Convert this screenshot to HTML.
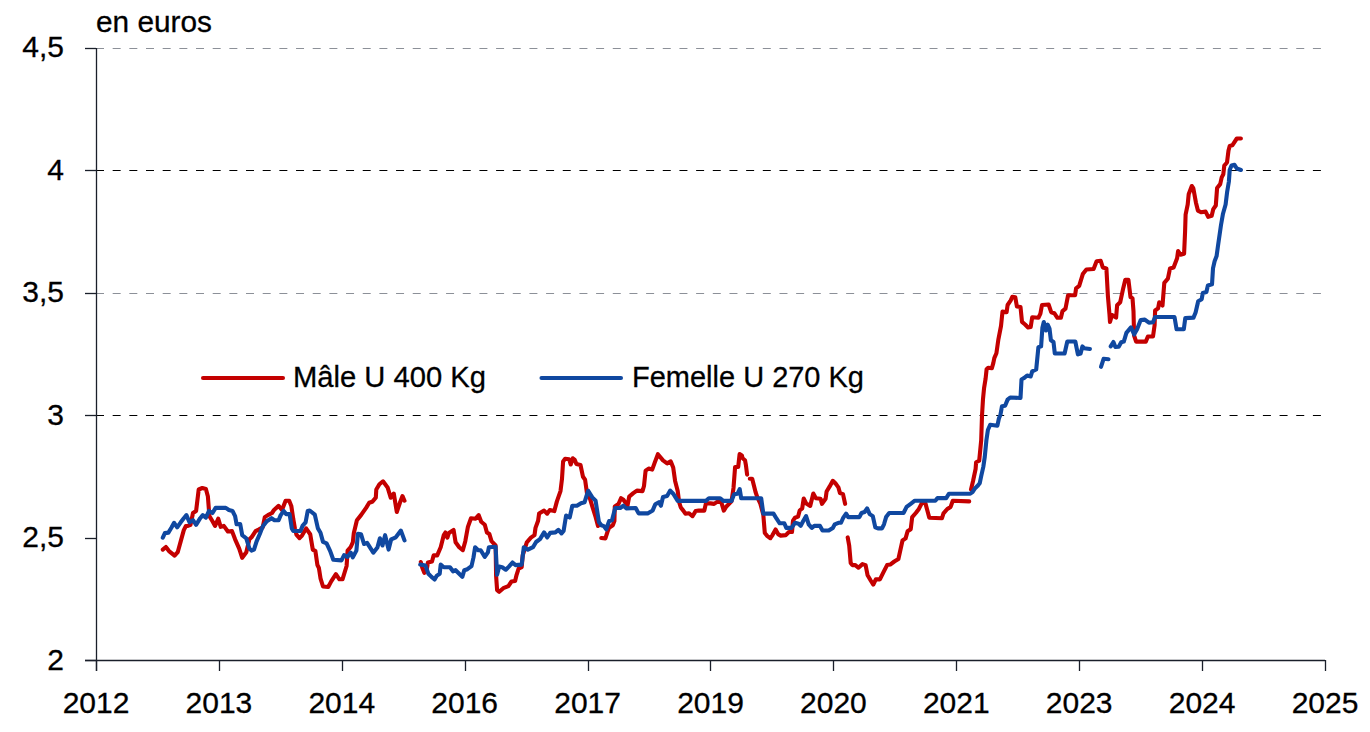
<!DOCTYPE html>
<html><head><meta charset="utf-8"><style>
html,body{margin:0;padding:0;background:#fff;width:1370px;height:732px;overflow:hidden}
svg{display:block}
</style></head><body>
<svg width="1370" height="732" viewBox="0 0 1370 732">
<line x1="96" y1="48.5" x2="1325" y2="48.5" stroke="#8c9098" stroke-width="1" stroke-dasharray="8 8.67"/>
<line x1="96" y1="170.5" x2="1325" y2="170.5" stroke="#000" stroke-width="1" stroke-dasharray="8 8.67"/>
<line x1="96" y1="293.5" x2="1325" y2="293.5" stroke="#8c9098" stroke-width="1" stroke-dasharray="8 8.67"/>
<line x1="96" y1="415.5" x2="1325" y2="415.5" stroke="#000" stroke-width="1" stroke-dasharray="8 8.67"/>
<line x1="96.5" y1="48" x2="96.5" y2="671" stroke="#1a1f2a" stroke-width="1.3"/>
<line x1="85" y1="660.5" x2="1325" y2="660.5" stroke="#1a1f2a" stroke-width="1.3"/>
<line x1="85" y1="48.5" x2="96" y2="48.5" stroke="#1a1f2a" stroke-width="1.3"/>
<line x1="85" y1="170.5" x2="96" y2="170.5" stroke="#1a1f2a" stroke-width="1.3"/>
<line x1="85" y1="293.5" x2="96" y2="293.5" stroke="#1a1f2a" stroke-width="1.3"/>
<line x1="85" y1="415.5" x2="96" y2="415.5" stroke="#1a1f2a" stroke-width="1.3"/>
<line x1="85" y1="538.5" x2="96" y2="538.5" stroke="#1a1f2a" stroke-width="1.3"/>
<line x1="85" y1="660.5" x2="96" y2="660.5" stroke="#1a1f2a" stroke-width="1.3"/>
<line x1="96.5" y1="660" x2="96.5" y2="671" stroke="#1a1f2a" stroke-width="1.3"/>
<line x1="219.5" y1="660" x2="219.5" y2="671" stroke="#1a1f2a" stroke-width="1.3"/>
<line x1="342.5" y1="660" x2="342.5" y2="671" stroke="#1a1f2a" stroke-width="1.3"/>
<line x1="465.5" y1="660" x2="465.5" y2="671" stroke="#1a1f2a" stroke-width="1.3"/>
<line x1="588.5" y1="660" x2="588.5" y2="671" stroke="#1a1f2a" stroke-width="1.3"/>
<line x1="710.5" y1="660" x2="710.5" y2="671" stroke="#1a1f2a" stroke-width="1.3"/>
<line x1="833.5" y1="660" x2="833.5" y2="671" stroke="#1a1f2a" stroke-width="1.3"/>
<line x1="956.5" y1="660" x2="956.5" y2="671" stroke="#1a1f2a" stroke-width="1.3"/>
<line x1="1079.5" y1="660" x2="1079.5" y2="671" stroke="#1a1f2a" stroke-width="1.3"/>
<line x1="1202.5" y1="660" x2="1202.5" y2="671" stroke="#1a1f2a" stroke-width="1.3"/>
<line x1="1325.5" y1="660" x2="1325.5" y2="671" stroke="#1a1f2a" stroke-width="1.3"/>
<text x="64" y="56.5" font-family="Liberation Sans, sans-serif" font-size="30" text-anchor="end" fill="#000" stroke="#000" stroke-width="0.3">4,5</text>
<text x="64" y="180" font-family="Liberation Sans, sans-serif" font-size="30" text-anchor="end" fill="#000" stroke="#000" stroke-width="0.3">4</text>
<text x="64" y="301.5" font-family="Liberation Sans, sans-serif" font-size="30" text-anchor="end" fill="#000" stroke="#000" stroke-width="0.3">3,5</text>
<text x="64" y="425" font-family="Liberation Sans, sans-serif" font-size="30" text-anchor="end" fill="#000" stroke="#000" stroke-width="0.3">3</text>
<text x="64" y="546.5" font-family="Liberation Sans, sans-serif" font-size="30" text-anchor="end" fill="#000" stroke="#000" stroke-width="0.3">2,5</text>
<text x="64" y="670" font-family="Liberation Sans, sans-serif" font-size="30" text-anchor="end" fill="#000" stroke="#000" stroke-width="0.3">2</text>
<text x="96.0" y="712.5" font-family="Liberation Sans, sans-serif" font-size="30" text-anchor="middle" fill="#000" stroke="#000" stroke-width="0.3">2012</text>
<text x="218.9" y="712.5" font-family="Liberation Sans, sans-serif" font-size="30" text-anchor="middle" fill="#000" stroke="#000" stroke-width="0.3">2013</text>
<text x="341.8" y="712.5" font-family="Liberation Sans, sans-serif" font-size="30" text-anchor="middle" fill="#000" stroke="#000" stroke-width="0.3">2014</text>
<text x="464.70000000000005" y="712.5" font-family="Liberation Sans, sans-serif" font-size="30" text-anchor="middle" fill="#000" stroke="#000" stroke-width="0.3">2016</text>
<text x="587.6" y="712.5" font-family="Liberation Sans, sans-serif" font-size="30" text-anchor="middle" fill="#000" stroke="#000" stroke-width="0.3">2017</text>
<text x="710.5" y="712.5" font-family="Liberation Sans, sans-serif" font-size="30" text-anchor="middle" fill="#000" stroke="#000" stroke-width="0.3">2019</text>
<text x="833.4000000000001" y="712.5" font-family="Liberation Sans, sans-serif" font-size="30" text-anchor="middle" fill="#000" stroke="#000" stroke-width="0.3">2020</text>
<text x="956.3000000000001" y="712.5" font-family="Liberation Sans, sans-serif" font-size="30" text-anchor="middle" fill="#000" stroke="#000" stroke-width="0.3">2021</text>
<text x="1079.2" y="712.5" font-family="Liberation Sans, sans-serif" font-size="30" text-anchor="middle" fill="#000" stroke="#000" stroke-width="0.3">2023</text>
<text x="1202.1000000000001" y="712.5" font-family="Liberation Sans, sans-serif" font-size="30" text-anchor="middle" fill="#000" stroke="#000" stroke-width="0.3">2024</text>
<text x="1325.0" y="712.5" font-family="Liberation Sans, sans-serif" font-size="30" text-anchor="middle" fill="#000" stroke="#000" stroke-width="0.3">2025</text>
<text x="96" y="32" font-family="Liberation Sans, sans-serif" font-size="30" fill="#000" stroke="#000" stroke-width="0.3" textLength="116" lengthAdjust="spacingAndGlyphs">en euros</text>
<line x1="203" y1="378" x2="283" y2="378" stroke="#C40000" stroke-width="4.1" stroke-linecap="round"/>
<text x="293" y="386.5" font-family="Liberation Sans, sans-serif" font-size="30" fill="#000" stroke="#000" stroke-width="0.3" textLength="193" lengthAdjust="spacingAndGlyphs">Mâle U 400 Kg</text>
<line x1="541.5" y1="378" x2="621" y2="378" stroke="#1048A0" stroke-width="4.1" stroke-linecap="round"/>
<text x="632" y="386.5" font-family="Liberation Sans, sans-serif" font-size="30" fill="#000" stroke="#000" stroke-width="0.3" textLength="232" lengthAdjust="spacingAndGlyphs">Femelle U 270 Kg</text>
<path d="M162.8 549.6 L165.9 547 L169 551.1 L174.6 555.7 L177.7 552.2 L180.7 541.4 L183.8 530.1 L185.9 526 L187.9 525.9 L190.5 524.8 L193 513 L196.1 511 L198.7 489.5 L202.3 488 L205.9 489 L207.9 496.6 L209.4 516.1 L212.5 521.2 L215.1 525.9 L218.2 518.7 L220.7 526.9 L223.8 525.9 L227.9 531.5 L232 531.1 L235.1 539.3 L239.2 548.6 L242.2 557.8 L246.3 552.2 L249.4 539.3 L251.5 537.3 L255.6 531.1 L258.6 529.6 L262.7 527.4 L264.8 517.1 L267.9 515.1 L272 513 L274 510 L278.6 505.9 L282 510 L285.6 500.7 L289.2 500.7 L291.3 505.9 L293.3 519.2 L294.9 528.4 L296.4 534.6 L299.5 538.2 L302 535.6 L306.1 528.4 L310.2 534.2 L312.8 549.6 L315.4 551.1 L317.4 565 L318.9 568 L320.5 578.3 L323 586.5 L328.2 587 L331.2 581.4 L335.9 574.2 L339.4 579.3 L342.5 579.3 L346.6 566 L347.6 550.6 L350.7 547 L352.8 542.4 L353.8 533.2 L356.9 520.2 L361 515.1 L366.1 507.9 L369.2 502.8 L372.2 501.8 L375.8 497.7 L376.3 489.5 L379.4 484.3 L383 481.3 L387.6 487.4 L390.7 497.7 L393.8 493.6 L396.8 512 L399.9 502.8 L402.5 496.1 L404.5 500.7" fill="none" stroke="#C40000" stroke-width="4.1" stroke-linejoin="round" stroke-linecap="round"/>
<path d="M420.8 562 L422.3 567.7 L424.3 572.8 L426.9 568.7 L427.9 562.5 L432 561.5 L433.6 555.4 L437.2 555.4 L440.7 547.2 L443.8 535.1 L445.4 532.5 L447.4 537.7 L448.9 533 L453.6 530 L455.6 542.3 L459.2 547.2 L462.8 550.2 L465.3 541.2 L467.9 526.9 L471 518.2 L475.6 518.7 L478.7 515.1 L481.2 521.8 L484.8 524.8 L486.9 532.5 L489.4 534.1 L491.5 541.2 L495.6 545.5 L496.1 575.9 L497.1 590.2 L499.2 591.8 L503.3 588.2 L508.4 586.1 L511.5 581.5 L515.1 581 L516.6 574.8 L518.6 568.7 L521.7 567.2 L522.7 555.4 L526.8 542.3 L530.9 537.7 L534.5 535.1 L535.5 527.9 L538.1 520.7 L539.1 513.6 L544.1 510.6 L547.2 513.7 L549.7 510.1 L554.3 511.1 L556.9 501.4 L560.5 491.1 L562 478.8 L563.1 461.4 L565.1 458.8 L569.2 459.3 L570.7 464.5 L572.8 458.3 L574.8 459.9 L576.4 464 L580.5 465 L583 476.8 L585.1 479.8 L587.1 494.2 L590.2 499.3 L592.3 506.4 L595.6 517 L598 526" fill="none" stroke="#C40000" stroke-width="4.1" stroke-linejoin="round" stroke-linecap="round"/>
<path d="M601.3 538 L605.4 538.4 L607.5 531.8 L609.1 527.7 L612.8 525.2 L614.4 521.1 L614.8 506.4 L618.5 504 L621 498.2 L623.4 499.8 L627.5 505.6 L629.2 496.6 L633.3 493.2 L636.9 490.6 L642.5 491.1 L644 486 L645.6 470.6 L648.6 468.6 L652.2 469.6 L654.8 462.4 L657.9 454.2 L663 460.4 L667.1 463.4 L670.7 461.4 L673.2 467.5 L675.1 480.9 L677.7 491.1 L679.2 502.4 L680.8 507.5 L683.3 510.6 L685.4 513.7 L689 513.2 L692.5 516.2 L695.6 511.1 L698.7 510.6 L704.3 510.6 L705.9 503.4 L710.5 503.4 L714.1 503.9 L717.1 501.9 L721.2 501.9 L723.8 510.6 L726.4 506.5 L731.5 501.4 L733.5 488 L735.1 467 L738.2 467 L739.6 454.1 L741.9 455.5 L742.6 458.2 L745 460.2 L746 465.7 L747.1 474.6" fill="none" stroke="#C40000" stroke-width="4.1" stroke-linejoin="round" stroke-linecap="round"/>
<path d="M749.8 478.7 L752.2 478.7 L753.9 485.5 L755.6 492.3 L757.3 497.1 L760.2 503.3 L763.3 514.6 L764.8 533 L767.4 536.1 L770.4 538.2 L772.5 535.1 L775.6 529.5 L778.1 534.1 L780.7 535.6 L785.8 535.1 L788.9 532 L792 532 L793 520.7 L795 517.7 L798.1 516.6 L799.7 510.5 L802.2 508.4 L803.7 498.5 L806.3 503.6 L810.2 505.9 L813.3 493.6 L815.9 498.2 L820.5 498.7 L822 503.8 L825.6 498.7 L826.6 491.5 L829.7 486.4 L832.8 480.8 L835.4 483.3 L838.4 487.4 L840 493.1 L843 494.1 L845.1 503.8" fill="none" stroke="#C40000" stroke-width="4.1" stroke-linejoin="round" stroke-linecap="round"/>
<path d="M847.7 537.4 L849.2 545.6 L850.7 563 L852.3 565.1 L855.3 565.1 L858.4 567.7 L862.5 564.1 L865.6 565.1 L867.6 575.3 L870.7 580.5 L873.3 584.6 L875.8 579.4 L879.9 579.4 L884 571.2 L887.1 565.1 L890.2 564.6 L894.3 561.5 L898.4 559 L902.5 540.5 L905.6 538.4 L907.6 531.3 L910.7 529.2 L912.2 517.1 L915.8 513 L918.9 508.9 L922.7 501.4 L925.5 503.6 L929.3 517.8 L941.9 518.3 L943.5 513.4 L947.3 509 L950.6 506.9 L952.8 500.8 L969.2 501.4" fill="none" stroke="#C40000" stroke-width="4.1" stroke-linejoin="round" stroke-linecap="round"/>
<path d="M971 489.4 L973 481.2 L975.6 469 L976.1 462.3 L979.2 460.7 L980.2 450.5 L981.2 440.2 L982 415.5 L983 399.1 L984.1 387.8 L985.6 378.6 L986.6 369.3 L988.2 367.8 L991.8 368.3 L993.3 363.2 L994.3 358.1 L996.4 353.2 L998.4 339.3 L1001 326 L1002.5 311.6 L1006.6 312.2 L1007.6 305 L1010.7 300.4 L1012.3 296.8 L1015.3 297.3 L1016.9 306.5 L1020.5 307 L1022 321.9 L1025.1 324.5 L1028.1 327.5 L1030.7 327 L1032.2 317.3 L1038.4 317.8 L1040.4 313.7 L1042 305 L1048.6 304.5 L1051.2 312.2 L1054.3 313.2 L1057.4 317.8 L1060.9 317.8 L1062.5 311.1 L1065.5 308.6 L1068.1 295.2 L1073.2 295.2 L1075.1 295.1 L1076.1 288.4 L1079.2 285.9 L1082.8 274.1 L1086.4 269.5 L1093.6 269 L1096.6 261.3 L1100.7 260.8 L1102.8 267.4 L1106.4 268.4 L1107.9 296.1 L1109.5 314.6 L1110 322 L1112 315 L1116.1 317.6 L1117.1 305.3 L1120.2 302.3 L1123.3 287.9 L1125.3 279.7 L1128.4 279.7 L1130.5 297.1 L1132.5 298.2 L1133.5 311.5 L1134.1 335.5 L1136.1 341.6 L1145.8 341.6 L1147.9 336.5 L1153 336.5 L1154.6 325.2 L1155.1 310.5 L1158.1 308.4 L1159.2 302.3 L1162.5 305.5 L1164.3 282.8 L1167.9 278.7 L1170 268.4 L1173.6 267.4 L1177.1 258.2 L1178.1 251 L1180.5 254.7 L1184.1 253.7 L1185.1 231.1 L1185.6 214.7 L1187.7 204.5 L1188.7 194.2 L1191.8 186 L1193.3 188.1 L1195.9 202.4 L1197.9 210.6 L1201 212.2 L1205.6 211.6 L1208.2 216.8 L1211.7 215.7 L1213.3 209.1 L1215.8 205.5 L1217.1 188 L1220.2 184.1 L1221.7 177.4 L1223.3 174.3 L1224.3 165.6 L1227 162.5 L1228.5 150.5 L1229.7 146 L1232.3 145.3 L1236.8 138.5 L1240.9 138.5" fill="none" stroke="#C40000" stroke-width="4.1" stroke-linejoin="round" stroke-linecap="round"/>
<path d="M162.8 537.7 L164.9 533.1 L168.4 532.6 L171.5 527.5 L174.1 522.8 L177.2 527.4 L180.7 522.3 L183.8 518.2 L186.4 515.1 L189.5 522.3 L193 520.2 L196.1 524.8 L200.2 518.2 L202.8 515.1 L205.9 517.7 L208.9 511 L212.5 513 L215.6 507.9 L225.8 507.9 L228.9 510 L232.5 511 L235.1 516.1 L236.6 524.3 L240.2 524 L242.2 535.2 L246.3 538.3 L249.4 548.6 L251.5 550.6 L254 549.6 L256.6 541.4 L259.7 534.2 L262.7 526.5 L266.8 521.2 L271.5 518.2 L274.5 520.2 L278.6 520.2 L280.7 515.1 L283.7 511 L286.2 514.1 L289.6 514 L291.8 528.4 L293.3 531 L300.5 531 L302.5 525.9 L305.6 522.3 L307.7 511 L309.7 510.5 L314.8 514.6 L317.9 528.4 L320.5 532.7 L323 541.9 L326.6 543.4 L330.2 551.1 L333.3 559.8 L341.5 560.4 L344.1 555.2 L347.6 556.8 L350.7 552.7 L352.8 557.3 L356.4 550.6 L357.9 533.7 L361 534.2 L364 544 L367.1 542.9 L373.3 552.7 L377.4 547.5 L379.9 538.3 L382.5 545.5 L385.1 535.2 L388.6 549.6 L391.2 539.3 L395.8 537.3 L400.9 530.6 L404.5 540.4" fill="none" stroke="#1048A0" stroke-width="4.1" stroke-linejoin="round" stroke-linecap="round"/>
<path d="M420.2 564.6 L425.4 565.6 L428.4 573.8 L431.5 576.9 L434.6 579.5 L436.6 575.9 L439.7 573.8 L440.7 564.6 L443.8 567.2 L450 567.2 L453 571.3 L455.6 570.2 L459.2 573.8 L462.3 576.9 L464.3 570.2 L467.4 569.2 L471.5 566.1 L473.5 557.4 L475.1 547.2 L478.2 550.2 L480.7 550.2 L484.8 556.9 L487.9 552.3 L488.9 547.2 L495.6 546.7 L497.1 574.8 L499.2 566.6 L502.2 567.2 L505.8 569.7 L508.9 566.6 L512.5 562.5 L515.6 565.1 L521.7 564.6 L523.8 547.2 L527.9 549.7 L533 547.2 L536.1 542 L540 539.1 L544.1 532.4 L547.2 537.5 L550.2 532.9 L555.4 532.4 L558.4 529.8 L561.5 533.4 L563.6 530.9 L566.1 515.5 L569.7 517.5 L572.3 505.8 L576.9 505.8 L581 503.2 L584.6 502.2 L586.6 495.7 L588.2 490.8 L592.3 497.4 L595.6 500.7 L598.9 522 L601.3 525.2 L603.8 526.1 L606.2 529.3 L609.1 521.1 L612 520.3 L615.2 508 L620.2 508 L623.4 505.6 L626.3 508.4 L635.7 508 L638.6 513.4 L647.6 513.4 L652.7 510.4 L655.3 504.2 L658.9 502.2 L660.9 505.8 L663 497 L667.1 496 L670.2 490.6 L673.2 493.7 L677.7 500.9 L705.9 500.9 L708.9 498.3 L720.2 498.3 L723.3 500.9 L731.5 500.9 L734.1 494.2 L737.6 493.7 L739.7 489.1 L741.2 498.3 L761.2 498.3 L763.3 513.6 L773.5 513.6 L776.6 518.7 L779.7 523.3 L784.3 523.3 L786.3 527.9 L791.5 527.9 L795 522.8 L798.6 523.8 L800.7 525.9 L803.1 521.2 L806.1 516.1 L808.7 524.3 L811.8 527.9 L814.3 525.9 L820 525.9 L822.5 530.5 L828.7 530.5 L832.8 527.9 L834.8 524.3 L838.4 522.8 L841 522.8 L843 518.2 L846.1 513.6 L848.2 517.1 L859.4 517.1 L861.5 513 L864.6 512 L867.1 508.4 L869.7 514.1 L872.8 516.1 L875.3 527.4 L877.9 528.4 L882 528.4 L884 524.3 L886.1 517.1 L889.2 513 L903.5 513 L906.6 506.9 L910.7 503.8 L914.8 500.7 L935.3 500.8 L937.5 498.1 L946.2 498.1 L949 493.7 L970.3 493.7 L972.5 492.1 L974.6 488.8 L977.4 486.1 L979.7 483.3 L981.2 476.1 L983.3 466.9 L984.8 456.6 L986.4 440.2 L987.9 430 L990.2 424.7 L997.4 425.7 L998.9 418.5 L1000.5 414.4 L1002 406.2 L1005.1 405.7 L1007.6 399.6 L1010.2 397.5 L1020.5 398 L1021.5 379.6 L1024 378.1 L1027.1 375.5 L1030.7 376.5 L1032.2 371.4 L1036.2 369.5 L1038.4 347.3 L1041.1 346.4 L1042.4 327.7 L1043.8 322 L1046 330.4 L1047.7 324.6 L1049.5 328.6 L1050.9 340.2 L1053.5 342 L1054.8 353.5 L1064.6 353.5 L1067.3 341.5 L1075.3 341.5 L1077.9 354.4 L1080.6 353.5 L1082.4 346.4 L1084.1 348.2 L1089.9 349" fill="none" stroke="#1048A0" stroke-width="4.1" stroke-linejoin="round" stroke-linecap="round"/>
<path d="M1101 366.8 L1103.6 358.8 L1108.5 359.2" fill="none" stroke="#1048A0" stroke-width="4.1" stroke-linejoin="round" stroke-linecap="round"/>
<path d="M1110.7 346.4 L1113.4 342 L1115.4 347 L1118.7 346.8 L1121.2 342.2 L1123.8 341.6 L1126.4 332.9 L1131 327.3 L1134.1 334.5 L1137.1 329.3 L1140.7 320.1 L1144.8 319.6 L1148.9 322.7 L1153 322.2 L1155.1 317 L1174.5 317 L1176.6 329.3 L1183.8 329.3 L1185.3 318.1 L1193.5 317.6 L1195.6 312.5 L1198.2 301.2 L1201.7 299.2 L1202.8 293 L1206.4 292 L1207.9 285.4 L1212 284.3 L1213 268.4 L1214.6 261.3 L1216.6 256.1 L1217.9 246.5 L1221 225 L1223 213.7 L1225.6 204.5 L1227.1 192.2 L1228.9 181.5 L1229.7 170 L1231.5 165.5 L1234.5 164.8 L1236.8 168.5 L1240.9 170" fill="none" stroke="#1048A0" stroke-width="4.1" stroke-linejoin="round" stroke-linecap="round"/>
</svg>
</body></html>
